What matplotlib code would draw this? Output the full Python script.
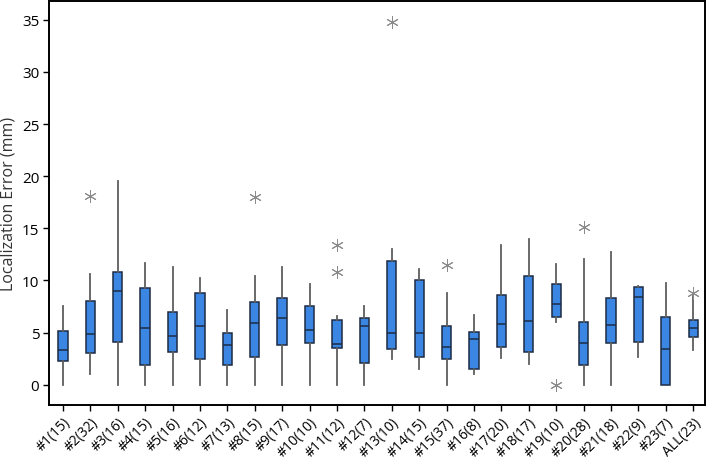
import matplotlib
matplotlib.use("Agg")
import matplotlib.pyplot as plt

plt.rcParams['font.family'] = ['Open Sans', 'DejaVu Sans']

labels = ["#1(15)", "#2(32)", "#3(16)", "#4(15)", "#5(16)", "#6(12)", "#7(13)", "#8(15)",
          "#9(17)", "#10(10)", "#11(12)", "#12(7)", "#13(10)", "#14(15)", "#15(37)", "#16(8)",
          "#17(20)", "#18(17)", "#19(10)", "#20(28)", "#21(18)", "#22(9)", "#23(7)", "ALL(23)"]

whislo = [0.0, 1.0, 0.0, 0.0, 0.0, 0.0, 0.0, 0.0, 0.0, 0.0, 0.0, 0.0,
          2.46, 1.5, 0.0, 1.0, 2.53, 1.98, 5.98, 0.0, 0.0, 2.62, 0.0, 3.3]
q1 = [2.3, 3.0, 4.06, 1.9, 3.13, 2.46, 1.89, 2.69, 3.84, 4.0, 3.55, 2.05,
      3.42, 2.62, 2.46, 1.47, 3.58, 3.1, 6.46, 1.89, 4.0, 4.12, 0.0, 4.54]
med = [3.3, 4.9, 9.0, 5.4, 4.64, 5.63, 3.84, 5.88, 6.36, 5.27, 3.93, 5.63,
       4.96, 4.96, 3.58, 4.38, 5.82, 6.14, 7.77, 3.97, 5.72, 8.41, 3.39, 5.47]
q3 = [5.18, 8.02, 10.8, 9.27, 6.97, 8.82, 4.93, 7.96, 8.35, 7.55, 6.17, 6.43,
      11.83, 10.0, 5.63, 5.08, 8.63, 10.45, 9.65, 6.01, 8.31, 9.34, 6.49, 6.23]
whishi = [7.5, 10.6, 19.5, 11.7, 11.3, 10.2, 7.19, 10.4, 11.25, 9.62, 6.55, 7.57,
          12.98, 11.09, 8.76, 6.68, 13.4, 14.0, 11.54, 12.05, 12.72, 9.46, 9.72, 8.53]
outliers = [[], [18.1], [], [], [], [], [], [18.0], [], [], [13.4, 10.8], [],
            [34.8], [], [11.5], [], [], [], [0.0], [15.1], [], [], [], [8.8]]

stats = []
for i in range(len(labels)):
    stats.append(dict(label=labels[i], whislo=whislo[i], q1=q1[i], med=med[i],
                      q3=q3[i], whishi=whishi[i], fliers=outliers[i]))

fig = plt.figure(figsize=(7.09, 4.60), dpi=100)
ax = fig.add_axes([0.069, 0.118, 0.9254, 0.8777])

ax.bxp(stats, positions=range(1, len(labels) + 1), widths=0.34, patch_artist=True,
       showcaps=False,
       boxprops=dict(facecolor="#3a86e2", edgecolor="#1d2c44", linewidth=1.1),
       medianprops=dict(color="#1d2c44", linewidth=1.1),
       whiskerprops=dict(color="#5e5e5e", linewidth=1.3),
       flierprops=dict(marker=(6, 2, 0), markersize=9, markeredgecolor="#8a8a8a",
                       markerfacecolor="none", markeredgewidth=0.7, linestyle="none"))

ax.set_xlim(0.49, 24.43)
ax.set_ylim(-1.92, 36.8)
ax.set_yticks([0, 5, 10, 15, 20, 25, 30, 35])
ax.set_xticks(range(1, len(labels) + 1))
ax.set_xticklabels(labels, rotation=45, ha='right', rotation_mode='anchor', fontsize=10)
ax.tick_params(axis='y', labelsize=11, length=4, width=1, direction='out', colors='black', pad=3)
ax.tick_params(axis='x', length=4, width=1, direction='out', pad=3)
ax.set_ylabel("Localization Error (mm)", fontsize=11.5, color="#333333", labelpad=4)
for s in ax.spines.values():
    s.set_linewidth(1.4)
    s.set_color("black")

fig.savefig("out.png", dpi=100)
